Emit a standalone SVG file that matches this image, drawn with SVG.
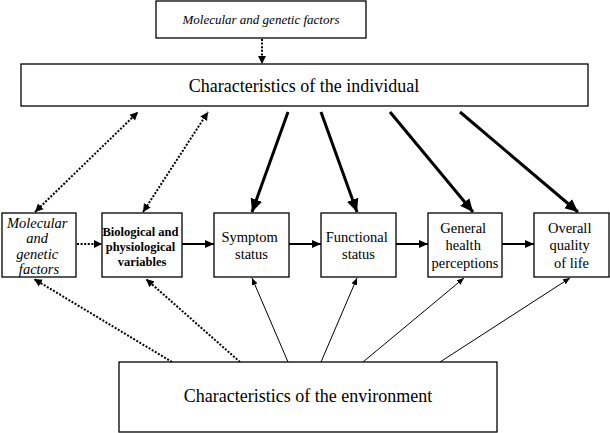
<svg xmlns="http://www.w3.org/2000/svg" width="610" height="433" viewBox="0 0 610 433">
<style>
.box{fill:#fff;stroke:#000;stroke-width:1.3}
text{font-family:"Liberation Serif","Times New Roman",serif;fill:#000;text-anchor:middle}
.it{font-style:italic}
.b{font-weight:bold}
.thick{stroke:#000;stroke-width:3;fill:none;marker-end:url(#bigHead)}
.solid{stroke:#000;stroke-width:2;fill:none;marker-end:url(#midHead)}
.thin{stroke:#000;stroke-width:1;fill:none;marker-end:url(#smallHead)}
.dot{stroke:#000;stroke-width:2;stroke-dasharray:2 1.6;fill:none;marker-end:url(#dotHead)}
.dot2{stroke:#000;stroke-width:2;stroke-dasharray:2 1.6;fill:none;marker-end:url(#dotHead);marker-start:url(#dotHead)}
</style>
<defs>
<marker id="bigHead" markerUnits="userSpaceOnUse" markerWidth="14" markerHeight="12" refX="13" refY="6" orient="auto-start-reverse"><path d="M0,0 L13,6 L0,12 Z" fill="#000"/></marker>
<marker id="midHead" markerUnits="userSpaceOnUse" markerWidth="10" markerHeight="10" refX="9" refY="5" orient="auto-start-reverse"><path d="M0,1 L9,5 L0,9 Z" fill="#000"/></marker>
<marker id="smallHead" markerUnits="userSpaceOnUse" markerWidth="8" markerHeight="8" refX="7" refY="4" orient="auto-start-reverse"><path d="M0,1 L7,4 L0,7 Z" fill="#000"/></marker>
<marker id="dotHead" markerUnits="userSpaceOnUse" markerWidth="9" markerHeight="9" refX="8" refY="4.5" orient="auto-start-reverse"><path d="M0,0.5 L8,4.5 L0,8.5 Z" fill="#000"/></marker>
</defs>

<g id="connectors">
<line class="dot" x1="262" y1="39" x2="262" y2="64"/>
<line class="dot2" x1="35" y1="212" x2="138" y2="112"/>
<line class="dot2" x1="143" y1="212" x2="208" y2="112"/>
<line class="thick" x1="288" y1="112" x2="252" y2="212"/>
<line class="thick" x1="321" y1="112" x2="357" y2="212"/>
<line class="thick" x1="390" y1="112" x2="473" y2="212"/>
<line class="thick" x1="460" y1="112" x2="578" y2="212"/>
<line class="dot" x1="77" y1="244" x2="102" y2="244"/>
<line class="solid" x1="182" y1="244" x2="214" y2="244"/>
<line class="solid" x1="289" y1="244" x2="321" y2="244"/>
<line class="solid" x1="396" y1="244" x2="428" y2="244"/>
<line class="solid" x1="502" y1="244" x2="534" y2="244"/>
<line class="dot" x1="172" y1="362" x2="34" y2="279"/>
<line class="dot" x1="240" y1="362" x2="146" y2="279"/>
<line class="thin" x1="288" y1="362" x2="252" y2="278"/>
<line class="thin" x1="321" y1="362" x2="357" y2="278"/>
<line class="thin" x1="363" y1="362" x2="464" y2="278"/>
<line class="thin" x1="440" y1="362" x2="570" y2="278"/>
</g>

<g id="molecular-top">
<rect class="box" x="156" y="1" width="210" height="37"/>
<text class="it" x="261" y="24" font-size="13" font-family="Liberation Serif, serif">Molecular and genetic factors</text>
</g>

<g id="individual">
<rect class="box" x="21" y="64" width="567" height="42"/>
<text x="304" y="92" font-size="18" font-family="Liberation Serif, serif">Characteristics of the individual</text>
</g>

<g id="molecular">
<rect class="box" x="2" y="213" width="74" height="64"/>
<text class="it" font-size="14.5" font-family="Liberation Serif, serif">
<tspan x="39" y="228">Molecular</tspan>
<tspan x="39" y="243">and</tspan>
<tspan x="39" y="259">genetic</tspan>
<tspan x="39" y="274">factors</tspan>
</text>
</g>

<g id="biological">
<rect class="box" x="102" y="213" width="80" height="64"/>
<text class="b" font-size="12.5" font-family="Liberation Serif, serif">
<tspan x="142" y="236">Biological and</tspan>
<tspan x="142" y="251">physiological</tspan>
<tspan x="142" y="266">variables</tspan>
</text>
</g>

<g id="symptom">
<rect class="box" x="214" y="213" width="75" height="64"/>
<text font-size="14.5" font-family="Liberation Serif, serif">
<tspan x="251.5" y="242">Symptom</tspan>
<tspan x="251.5" y="259">status</tspan>
</text>
</g>

<g id="functional">
<rect class="box" x="321" y="213" width="75" height="64"/>
<text font-size="14.5" font-family="Liberation Serif, serif">
<tspan x="358.5" y="242">Functional</tspan>
<tspan x="358.5" y="259">status</tspan>
</text>
</g>

<g id="general">
<rect class="box" x="428" y="213" width="74" height="64"/>
<text font-size="14.5" font-family="Liberation Serif, serif">
<tspan x="465" y="233">General</tspan>
<tspan x="465" y="250">health</tspan>
<tspan x="465" y="268">perceptions</tspan>
</text>
</g>

<g id="overall">
<rect class="box" x="534" y="213" width="75" height="64"/>
<text font-size="14.5" font-family="Liberation Serif, serif">
<tspan x="571.5" y="233">Overall</tspan>
<tspan x="571.5" y="250">quality</tspan>
<tspan x="571.5" y="268">of life</tspan>
</text>
</g>

<g id="environment">
<rect class="box" x="119" y="362" width="378" height="70"/>
<text x="308" y="402" font-size="18" font-family="Liberation Serif, serif">Characteristics of the environment</text>
</g>
</svg>
